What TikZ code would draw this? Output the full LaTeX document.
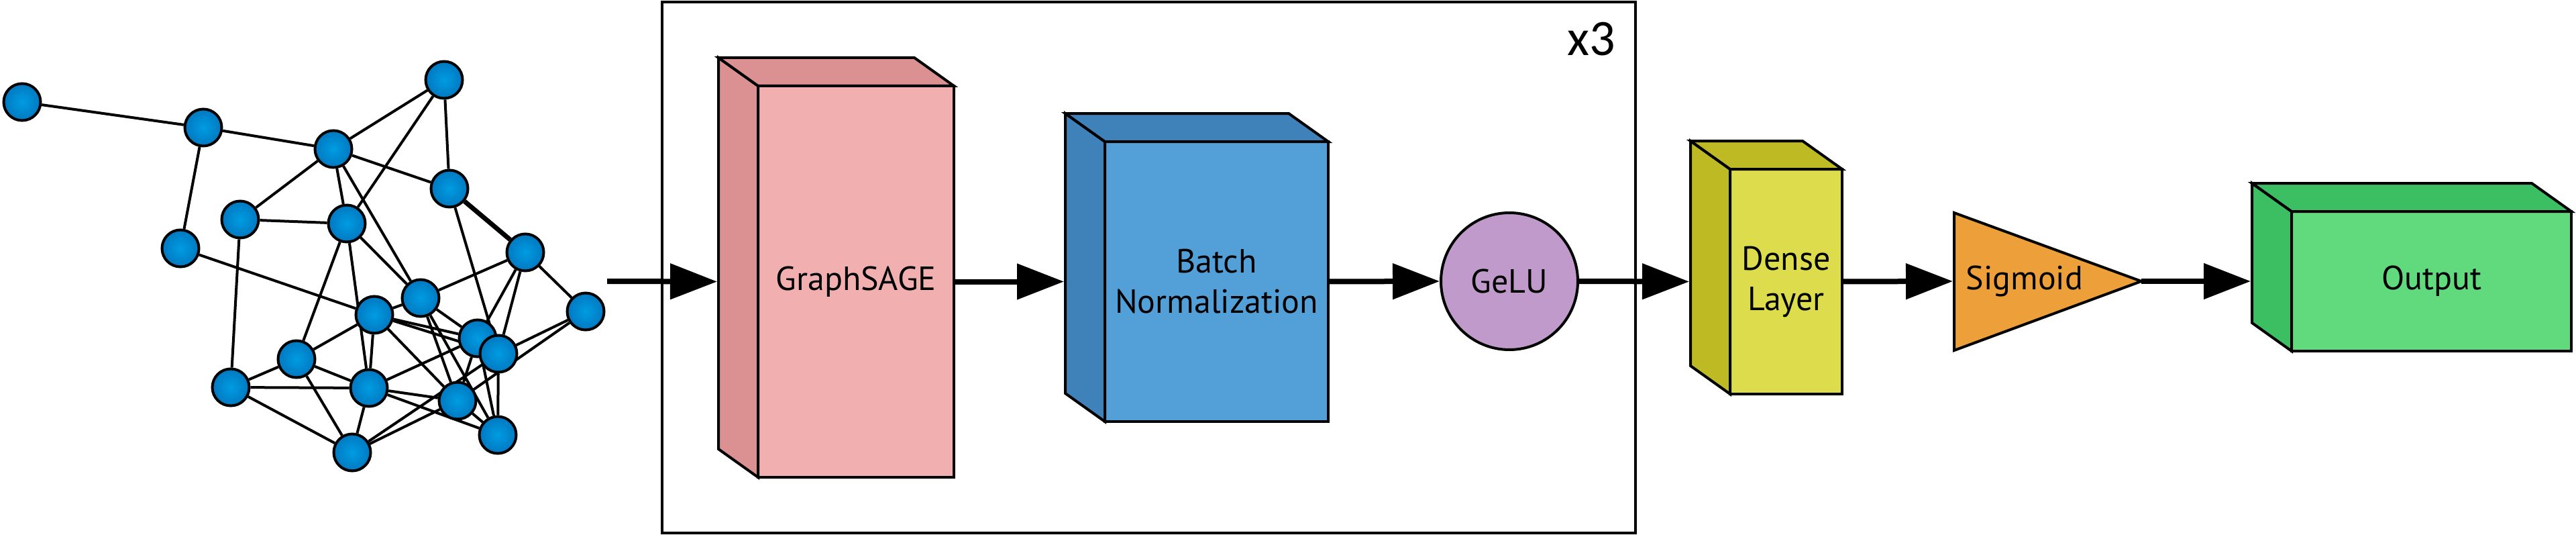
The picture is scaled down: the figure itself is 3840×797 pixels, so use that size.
\documentclass[tikz,border=0pt]{standalone}
\usepackage{fontspec}
\setmainfont{PT Sans}
\newfontfamily\myxfont{Carlito}
\usetikzlibrary{arrows.meta,calc}
\pgfdeclarelayer{bg}
\pgfsetlayers{bg,main}
\definecolor{gsF}{HTML}{F2AFB0}
\definecolor{gsS}{HTML}{DB9192}
\definecolor{bnF}{HTML}{539FD7}
\definecolor{bnS}{HTML}{3F82BA}
\definecolor{geluC}{HTML}{BF9ACB}
\definecolor{dnF}{HTML}{DCDC4C}
\definecolor{dnS}{HTML}{BEBA24}
\definecolor{sigC}{HTML}{EDA03A}
\definecolor{outF}{HTML}{60DA7C}
\definecolor{outS}{HTML}{3CBE62}
\definecolor{nodeIn}{HTML}{009CE2}
\definecolor{nodeOut}{HTML}{0078C0}
\newcommand{\mylblfont}{\fontsize{50}{60}\selectfont}
\newcommand{\mycuboid}[2]{%
  \draw[face, fill=#2] (#1.north west) -- ++(-59,-42) -- ($(#1.south west)+(-59,-42)$) -- (#1.south west) -- cycle;
  \draw[face, fill=#2] (#1.north west) -- ++(-59,-42) -- ($(#1.north east)+(-59,-42)$) -- (#1.north east) -- cycle;
}
\begin{document}
\begin{tikzpicture}[x=1pt,y=-1pt,
  face/.style={draw=black, line width=4pt, line join=miter, miter limit=4},
  frontface/.style={face, rectangle, inner sep=0pt, outer sep=0pt, align=center, font=\mylblfont},
  arr/.style={line width=8pt, -{Triangle[length=70pt,width=52pt]}},
  gnode/.style={circle, draw=black, line width=4pt, minimum size=55pt, inner sep=0pt, inner color=nodeIn, outer color=nodeOut},
  gedge/.style={line width=4pt},
]
\useasboundingbox (0,0) rectangle (3840,797);

% ---------- graph ----------
\node[gnode] (a) at (33,152) {};
\node[gnode] (b) at (303,190) {};
\node[gnode] (c) at (497,222) {};
\node[gnode] (d) at (662,119) {};
\node[gnode] (e) at (670,281) {};
\node[gnode] (f) at (358,327) {};
\node[gnode] (g) at (517,333) {};
\node[gnode] (h) at (269,370) {};
\node[gnode] (i) at (783,376) {};
\node[gnode] (j) at (873,464) {};
\node[gnode] (l) at (558,469) {};
\node[gnode] (k) at (627,444) {};
\node[gnode] (m) at (712,504) {};
\node[gnode] (n) at (743,527) {};
\node[gnode] (o) at (442,535) {};
\node[gnode] (p) at (344,577) {};
\node[gnode] (q) at (550,578) {};
\node[gnode] (r) at (682,597) {};
\node[gnode] (s) at (742,648) {};
\node[gnode] (t) at (525,674) {};
\begin{pgfonlayer}{bg}
\foreach \u/\v in {a/b,b/c,b/h,c/d,c/e,c/f,c/g,c/k,d/e,d/g,e/n,f/g,f/p,g/k,g/o,g/q,h/l,
  i/k,i/j,i/m,i/n,j/n,j/r,k/l,k/m,k/r,k/s,l/m,l/n,l/o,l/q,l/r,m/q,m/r,m/s,n/s,
  o/p,o/q,o/t,p/q,p/t,q/r,q/s,q/t,r/s,r/t,n/t}
  \draw[gedge] (\u) -- (\v);
\draw[gedge, line width=7pt] (e) -- (i);
\end{pgfonlayer}
\coordinate (gout) at (905,419);

% ---------- repeated block ----------
\node[draw=black, line width=4.5pt, rectangle, minimum width=1451pt, minimum height=791pt, inner sep=0pt, outer sep=0pt] (loop) at (1712.5,398.5) {};
\node[font=\myxfont\fontsize{76}{80}\selectfont, anchor=base] (rep) at (2372,83) {x3};

\node[frontface, fill=gsF, minimum width=292pt, minimum height=583pt] (gs) at (1276,419.5) {GraphSAGE};
\mycuboid{gs}{gsS}

\node[frontface, fill=bnF, minimum width=333pt, minimum height=417pt] (bn) at (1813.5,419.5) {Batch\\Normalization};
\mycuboid{bn}{bnS}

\node[circle, draw=black, line width=4pt, fill=geluC, minimum size=204pt, inner sep=0pt, font=\mylblfont] (gelu) at (2250,419) {GeLU};

% ---------- head ----------
\node[frontface, fill=dnF, minimum width=167pt, minimum height=335pt] (dn) at (2662.5,419.5) {Dense\\Layer};
\mycuboid{dn}{dnS}

\coordinate (sigL) at (2913,419);
\coordinate (sigR) at (3192,419);
\draw[face, fill=sigC] (2913,317) -- (sigR) -- (2913,522) -- cycle;
\node[font=\mylblfont, inner sep=0pt] (sig) at (3018,419) {Sigmoid};

\node[frontface, fill=outF, minimum width=417pt, minimum height=208pt] (out) at (3624.5,419) {Output};
\mycuboid{out}{outS}

% ---------- arrows ----------
\draw[arr] (gout) -- ($(gs.west)+(-61,0)$);
\draw[arr] (gs.east) -- ($(bn.west)+(-61,0)$);
\draw[arr] (bn.east) -- (gelu.west);
\draw[arr] (gelu.east) -- ($(dn.west)+(-61,0)$);
\draw[arr] (dn.east) -- ($(sigL)+(-2,0)$);
\draw[arr] (sigR) -- ($(out.west)+(-61,0)$);
\end{tikzpicture}
\end{document}
